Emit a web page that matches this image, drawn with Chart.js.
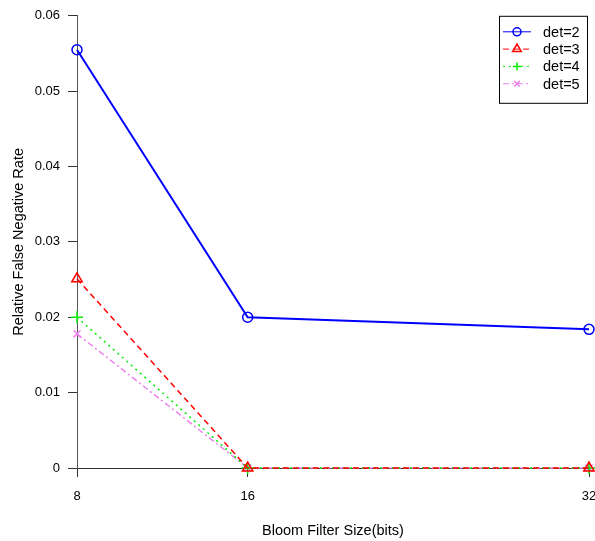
<!DOCTYPE html>
<html>
<head>
<meta charset="utf-8">
<script src="https://cdn.jsdelivr.net/npm/chart.js@4"></script>
<style>
  html, body { margin: 0; padding: 0; background: #fff; }
  #wrap { width: 595px; height: 541px; }
</style>
</head>
<body>
<div id="wrap"><canvas id="fnrChart" width="595" height="541"></canvas></div>
<script>
// data
const bloomSizes = [8, 16, 32];
const det2 = [0.0555, 0.0200, 0.0184];
const det3 = [0.0251, 0.0, 0.0];
const det4 = [0.0200, 0.0, 0.0];
const det5 = [0.0178, 0.0, 0.0];
const seriesLabels = ['det=2', 'det=3', 'det=4', 'det=5'];
const yTicks = [0, 0.01, 0.02, 0.03, 0.04, 0.05, 0.06];

const FONT = 'Liberation Sans, Arial, sans-serif';

function toPoints(vals) {
    return bloomSizes.map((x, i) => ({ x: x, y: vals[i] }));
}

// legend drawn inside the plot, top-right, like the original
const boxLegend = {
    id: 'boxLegend',
    afterDraw(chart) {
        const ctx = chart.ctx;
        const area = chart.chartArea;
        const right = area.right - 2;
        const left = right - 88;
        const top = area.top;
        const h = 87;
        ctx.save();
        ctx.fillStyle = '#fff';
        ctx.fillRect(left, top, right - left, h);
        ctx.strokeStyle = '#000';
        ctx.lineWidth = 1;
        ctx.strokeRect(left + 0.5, top + 0.5, right - left, h);
        chart.data.datasets.forEach((ds, i) => {
            const y = top + 16 + i * 17.3;
            ctx.strokeStyle = ds.borderColor;
            ctx.lineWidth = 1;
            ctx.setLineDash(ds.borderDash || []);
            ctx.beginPath();
            ctx.moveTo(left + 4, y);
            ctx.lineTo(left + 32, y);
            ctx.stroke();
            ctx.setLineDash([]);
            ctx.fillStyle = 'rgba(0,0,0,0)';
            ctx.lineWidth = 1.5;
            Chart.helpers.drawPoint(ctx, {
                pointStyle: ds.pointStyle,
                radius: ds.pointStyle === 'triangle' ? 5 : 4,
                borderWidth: 1.5
            }, left + 18, y);
            ctx.fillStyle = '#000';
            ctx.font = '14.5px ' + FONT;
            ctx.textBaseline = 'middle';
            ctx.textAlign = 'left';
            ctx.fillText(ds.label, left + 44, y + 1);
        });
        ctx.restore();
    }
};

function makeSet(label, vals, color, width, dash, style, radius) {
    return {
        label: label,
        data: toPoints(vals),
        borderColor: color,
        backgroundColor: 'rgba(0,0,0,0)',
        pointBorderColor: color,
        pointBackgroundColor: 'rgba(0,0,0,0)',
        borderWidth: width,
        borderDash: dash,
        pointStyle: style,
        pointRadius: radius,
        pointBorderWidth: 1.5,
        tension: 0,
        clip: false
    };
}

const ctx = document.getElementById('fnrChart').getContext('2d');
new Chart(ctx, {
    type: 'line',
    data: {
        datasets: [
            makeSet(seriesLabels[0], det2, '#0000ff', 2, [], 'circle', 5),
            makeSet(seriesLabels[1], det3, '#ff0000', 1.5, [6, 4], 'triangle', 6),
            makeSet(seriesLabels[2], det4, '#00ee00', 1.5, [2, 4], 'cross', 6),
            makeSet(seriesLabels[3], det5, '#ee82ee', 1.5, [6, 3, 2, 3], 'crossRot', 5)
        ]
    },
    options: {
        responsive: false,
        animation: false,
        layout: { autoPadding: false, padding: { top: 12, right: 6, left: 0, bottom: 0 } },
        plugins: {
            legend: { display: false },
            tooltip: { enabled: false }
        },
        scales: {
            x: {
                type: 'linear',
                min: 8,
                max: 32,
                afterBuildTicks: (axis) => { axis.ticks = bloomSizes.map(v => ({ value: v })); },
                afterFit: (axis) => {
                    axis.height = 73;
                    axis.paddingLeft = 0;
                    axis.paddingRight = 0;
                },
                grid: { drawOnChartArea: false, drawTicks: true, tickLength: 9, color: '#333', lineWidth: 1 },
                border: { display: true, color: '#333', width: 1 },
                ticks: { color: '#000', font: { family: FONT, size: 13 }, padding: 12, maxRotation: 0 },
                title: {
                    display: true,
                    text: 'Bloom Filter Size(bits)',
                    color: '#000',
                    font: { family: FONT, size: 14.5 },
                    padding: { top: 19, bottom: 1 }
                }
            },
            y: {
                min: 0,
                max: 0.06,
                afterBuildTicks: (axis) => { axis.ticks = yTicks.map(v => ({ value: v })); },
                afterFit: (axis) => { axis.width = 77; },
                grid: { drawOnChartArea: false, drawTicks: true, tickLength: 9, color: '#333', lineWidth: 1 },
                border: { display: true, color: '#555', width: 1 },
                ticks: {
                    color: '#000',
                    font: { family: FONT, size: 13 },
                    padding: 8,
                    callback: (v) => (v === 0 ? '0' : v.toFixed(2))
                },
                title: {
                    display: true,
                    text: 'Relative False Negative Rate',
                    color: '#000',
                    font: { family: FONT, size: 14.5 },
                    padding: { top: 10, bottom: 4 }
                }
            }
        }
    },
    plugins: [boxLegend]
});
</script>
</body>
</html>
